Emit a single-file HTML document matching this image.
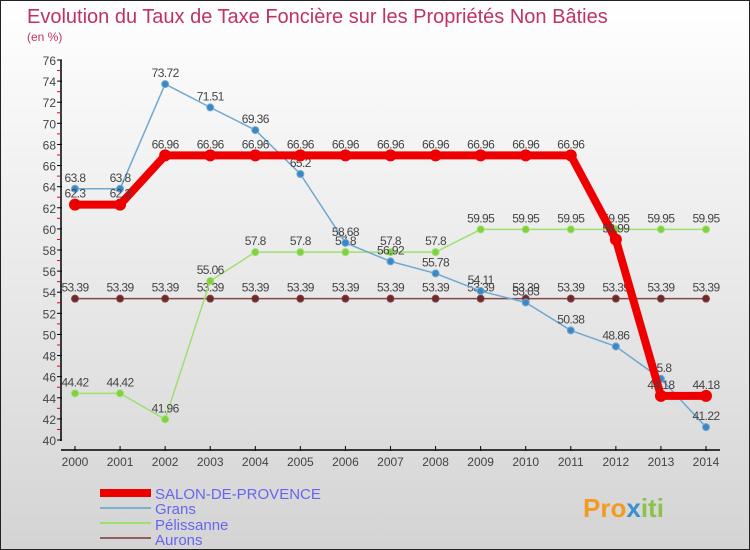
<!DOCTYPE html>
<html><head><meta charset="utf-8"><style>
body{margin:0;width:750px;height:550px;overflow:hidden;font-family:"Liberation Sans",sans-serif}
#frame{position:absolute;left:0;top:0;width:748px;height:548px;border:1px solid #222;background:linear-gradient(#fff,#f2f2f2 30%,#d4d4d4)}
</style></head><body>
<div id="frame">
<svg width="750" height="550" style="position:absolute;left:-1px;top:-1px">
<text x="27" y="23" font-size="20" fill="#c0335f">Evolution du Taux de Taxe Foncière sur les Propriétés Non Bâties</text>
<text x="27" y="41" font-size="12" fill="#c0335f">(en %)</text>
<g id="axes"></g><g id="series"></g>
<g>
<rect x="100" y="489" width="51" height="8" fill="#e00"/>
<text x="155" y="499" font-size="15" fill="#6666ee">SALON-DE-PROVENCE</text>
<rect x="100" y="507" width="51" height="2" fill="#7ab0d0"/>
<text x="155" y="514" font-size="15" fill="#6666ee">Grans</text>
<rect x="100" y="522" width="51" height="2" fill="#9de070"/>
<text x="155" y="530" font-size="15" fill="#6666ee">Pélissanne</text>
<rect x="100" y="537" width="51" height="2" fill="#906060"/>
<text x="155" y="545" font-size="15" fill="#6666ee">Aurons</text>
</g>
<text x="583" y="517" font-size="26" font-weight="bold" fill="#f59a20">Pro<tspan fill="#3a8fd0">x</tspan><tspan fill="#8bc34a">iti</tspan></text>
</svg></div>
<script>
const years=[2000,2001,2002,2003,2004,2005,2006,2007,2008,2009,2010,2011,2012,2013,2014];
const salon=[62.3,62.3,66.96,66.96,66.96,66.96,66.96,66.96,66.96,66.96,66.96,66.96,58.99,44.18,44.18];
const grans=[63.8,63.8,73.72,71.51,69.36,65.2,58.68,56.92,55.78,54.11,53.03,50.38,48.86,45.8,41.22];
const pelissanne=[44.42,44.42,41.96,55.06,57.8,57.8,57.8,57.8,57.8,59.95,59.95,59.95,59.95,59.95,59.95];
const aurons=[53.39,53.39,53.39,53.39,53.39,53.39,53.39,53.39,53.39,53.39,53.39,53.39,53.39,53.39,53.39];
const yTicks=[40,42,44,46,48,50,52,54,56,58,60,62,64,66,68,70,72,74,76];
const NS="http://www.w3.org/2000/svg";
const X=i=>75+i*(706-75)/(years.length-1);
const Y=v=>440-(v-40)*380/36;
function mk(t,a,p){const e=document.createElementNS(NS,t);for(const k in a)e.setAttribute(k,a[k]);p.appendChild(e);return e;}
const ax=document.getElementById('axes');
const yl=mk('line',{x1:61,y1:60,x2:61,y2:441,stroke:'#000','stroke-width':1.5},ax);


const xl=mk('line',{x1:61,y1:450,x2:720,y2:450,stroke:'#000','stroke-width':1.5},ax);


yTicks.forEach(v=>{
 mk('line',{x1:57,y1:Y(v),x2:62,y2:Y(v),stroke:'#000'},ax);
 if(v<76)mk('line',{x1:57,y1:Y(v+1),x2:60,y2:Y(v+1),stroke:'#e00'},ax);
 const t=mk('text',{x:56,y:Y(v)+5,'font-size':12,fill:'#444','text-anchor':'end'},ax);t.textContent=v;
 
 
});
years.forEach((y,i)=>{
 mk('line',{x1:X(i),y1:446,x2:X(i),y2:451,stroke:'#000'},ax);
 const t=mk('text',{x:X(i),y:466,'font-size':12,fill:'#444','text-anchor':'middle'},ax);t.textContent=y;
 
 
});
const sg=document.getElementById('series');
function series(vals,name,color,w,r,fill){
 const g=mk('g',{},sg);
 
 
 mk('polyline',{points:vals.map((v,i)=>X(i)+','+Y(v)).join(' '),fill:'none',stroke:color,'stroke-width':w,'stroke-linejoin':'round'},g);
 vals.forEach((v,i)=>{
  const c=mk('circle',{cx:X(i),cy:Y(v),r:r,fill:fill,stroke:color,'stroke-width':1},g);
  
  
  const t=mk('text',{x:X(i),y:Y(v)-7,'font-size':12,fill:'#444','text-anchor':'middle','letter-spacing':'-0.6'},g);t.textContent=v;
  
  
 });
}
series(aurons,'aurons','#804848',1.5,3.5,'#702828');
series(pelissanne,'pelissanne','#9de070',1.5,3.5,'#80d040');
series(grans,'grans','#6fa8d0',1.5,3.5,'#3a88c8');
series(salon,'salon','#e00',8,5.5,'#e00');
</script>
</body></html>
